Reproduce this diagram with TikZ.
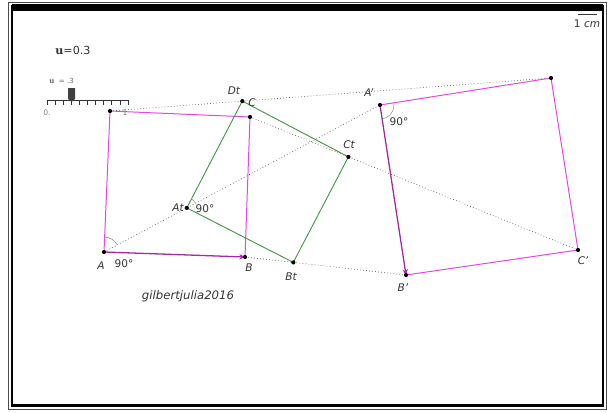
\documentclass[tikz,border=0pt]{standalone}
\usepackage{fontspec}
\setmainfont{DejaVu Sans}
\newfontfamily\serifu{DejaVu Serif}
\usepackage{tikz}
\usetikzlibrary{arrows.meta,calc,angles}
\definecolor{sqline}{RGB}{228,70,228}
\definecolor{sqdark}{RGB}{165,40,165}
\definecolor{midline}{RGB}{70,150,70}
\definecolor{traceline}{RGB}{95,95,95}
\newcommand{\uval}{0.3}

\begin{document}
\begin{tikzpicture}[x=0.03cm, y=-0.03cm,
  every node/.style={font=\fontsize{9}{10}\selectfont, text=black!80, inner sep=1pt},
  lbl/.style={font=\fontsize{9}{10}\selectfont\itshape},
  sq/.style={draw=sqline, line width=0.85pt},
  sqbase/.style={draw=sqdark, line width=1.1pt, -{Stealth[length=1.7mm, width=1.6mm]}},
  mid/.style={draw=midline, line width=0.8pt},
  trace/.style={draw=traceline, dotted, line width=0.6pt},
  ang/.style={draw=gray, line width=0.4pt},
  frame/.style={draw=black, line width=#1}
]
\useasboundingbox (0,0) rectangle (607,412);
\draw[frame=0.6pt, draw=black!70] (8,2.5) rectangle (606,409.5);
\draw[frame=2pt] (12,6) rectangle (603,405.5);
\fill (12,4) rectangle (603,10.5);

\coordinate (A) at (104,252);
\coordinate (B) at (245,257);
\coordinate (C) at (250,117);
\coordinate (D) at (110,111);
\coordinate (Ap) at (380,105);
\coordinate (Bp) at (406,275);
\coordinate (Cp) at (578,250);
\coordinate (Dp) at (551,78);
\coordinate (At) at ($(A)!\uval!(Ap)$);
\coordinate (Bt) at ($(B)!\uval!(Bp)$);
\coordinate (Ct) at ($(C)!\uval!(Cp)$);
\coordinate (Dt) at ($(D)!\uval!(Dp)$);

\draw[trace] (A) -- (Ap);
\draw[trace] (B) -- (Bp);
\draw[trace] (C) -- (Cp);
\draw[trace] (D) -- (Dp);

\draw[sq] (B) -- (C) -- (D) -- (A);
\draw[sqbase] (A) -- (B);
\draw[sq] (Bp) -- (Cp) -- (Dp) -- (Ap);
\draw[sqbase] (Ap) -- (Bp);
\draw[mid] (At) -- (Bt) -- (Ct) -- (Dt) -- cycle;

\pic[ang, angle radius=0.45cm] {angle = Ap--A--D};
\pic[ang, angle radius=0.3cm] {angle = Ap--At--Dt};
\pic[ang, angle radius=0.42cm] {angle = Bp--Ap--Dp};

\foreach \p in {A,B,C,D,Ap,Bp,Cp,Dp,At,Bt,Ct,Dt}
  \fill (\p) circle (1.8pt);

\node[lbl] (labA) at (101,266) {A};
\node (angA) at (124,264) {90°};
\node[lbl] (labB) at (249,268) {B};
\node[lbl] (labC) at (252,103) {C};
\node[lbl] (labAt) at (178,208) {At};
\node (angAt) at (205,209) {90°};
\node[lbl] (labBt) at (291,277) {Bt};
\node[lbl] (labCt) at (349,145) {Ct};
\node[lbl] (labDt) at (234,91) {Dt};
\node[lbl] (labAp) at (369,93) {A'};
\node (angAp) at (399,122) {90°};
\node[lbl] (labBp) at (403,288) {B'};
\node[lbl] (labCp) at (583,261) {C'};
\node[lbl, font=\fontsize{10}{12}\selectfont\itshape] (sign) at (188,296) {gilbertjulia2016};

\node[anchor=west, font=\fontsize{9.5}{11}\selectfont] (uval) at (54,50) {{\serifu\bfseries u}=0.3};
\node[anchor=west, font=\fontsize{6}{7}\selectfont, text=black!60] (uslide) at (48,81) {{\serifu\bfseries u}\ \ = .3};
\draw[black!80, line width=0.7pt] (47,100) -- (128,100);
\foreach \i in {0,...,10}
  \draw[black!80, line width=0.6pt] (47+8.1*\i,100) -- ++(0,4.5);
\fill[black!75] (68,88) -- (75,88) -- (75,99) -- (71.5,102) -- (68,99) -- cycle;
\node[font=\fontsize{6.5}{7}\selectfont, text=black!50] (s0) at (47,113) {0.};
\node[font=\fontsize{6.5}{7}\selectfont, text=black!50] (s1) at (125,113) {1};

\draw[black!80, line width=0.6pt] (578,14) -- (597,14);
\node (scale) at (587,24) {1 \textit{cm}};
\end{tikzpicture}
\end{document}
